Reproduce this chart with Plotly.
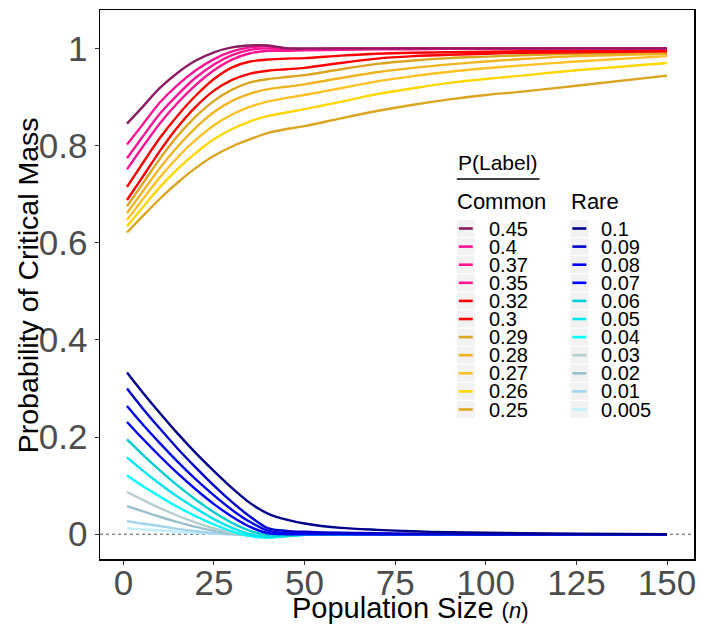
import plotly.graph_objects as go

# ---------------- data ----------------
n_values = [1, 5, 10, 15, 20, 25, 30, 35, 40, 45, 50, 60, 70, 80, 90, 100, 110, 125, 150]

common_labels = ["0.45", "0.4", "0.37", "0.35", "0.32", "0.3", "0.29", "0.28", "0.27", "0.26", "0.25"]
common_colors = ["#8B1C62", "#FF1493", "#FF1493", "#FF1493", "#FF0000", "#FF0000",
                 "#DAA520", "#EEB422", "#FFC125", "#FFD700", "#DAA520"]
p045 = [0.845, 0.877, 0.918, 0.950, 0.975, 0.992, 1.002, 1.006, 1.006, 1.000, 1.000, 1.000, 1.000, 1.000, 1.000, 1.000, 1.000, 1.000, 1.000]
p040 = [0.802, 0.840, 0.888, 0.925, 0.955, 0.978, 0.994, 1.002, 1.004, 1.000, 0.999, 1.000, 1.000, 1.000, 1.000, 1.000, 1.000, 1.000, 1.000]
p037 = [0.774, 0.815, 0.865, 0.905, 0.940, 0.967, 0.986, 0.997, 1.000, 0.998, 0.998, 0.999, 0.999, 1.000, 1.000, 1.000, 1.000, 1.000, 1.000]
p035 = [0.751, 0.794, 0.845, 0.888, 0.925, 0.955, 0.977, 0.990, 0.995, 0.995, 0.996, 0.997, 0.998, 0.998, 0.999, 0.999, 0.999, 1.000, 1.000]
p032 = [0.715, 0.760, 0.815, 0.862, 0.903, 0.937, 0.961, 0.973, 0.977, 0.979, 0.980, 0.985, 0.989, 0.991, 0.992, 0.993, 0.994, 0.995, 0.996]
p030 = [0.688, 0.732, 0.788, 0.838, 0.880, 0.913, 0.935, 0.948, 0.954, 0.957, 0.960, 0.970, 0.979, 0.984, 0.987, 0.989, 0.991, 0.992, 0.994]
p029 = [0.675, 0.718, 0.772, 0.820, 0.860, 0.892, 0.915, 0.930, 0.937, 0.941, 0.945, 0.957, 0.968, 0.975, 0.980, 0.983, 0.986, 0.989, 0.992]
p028 = [0.661, 0.702, 0.753, 0.798, 0.837, 0.869, 0.892, 0.907, 0.916, 0.921, 0.926, 0.939, 0.951, 0.960, 0.967, 0.973, 0.978, 0.984, 0.989]
p027 = [0.647, 0.686, 0.734, 0.776, 0.812, 0.842, 0.864, 0.880, 0.891, 0.898, 0.904, 0.918, 0.932, 0.943, 0.952, 0.959, 0.965, 0.973, 0.984]
p026 = [0.634, 0.670, 0.714, 0.752, 0.785, 0.813, 0.834, 0.850, 0.861, 0.868, 0.875, 0.890, 0.906, 0.918, 0.929, 0.937, 0.944, 0.955, 0.970]
p025 = [0.621, 0.652, 0.690, 0.724, 0.754, 0.779, 0.798, 0.813, 0.826, 0.834, 0.840, 0.856, 0.871, 0.884, 0.895, 0.904, 0.911, 0.923, 0.944]
common_series = [p045, p040, p037, p035, p032, p030, p029, p028, p027, p026, p025]

rare_labels = ["0.1", "0.09", "0.08", "0.07", "0.06", "0.05", "0.04", "0.03", "0.02", "0.01", "0.005"]
rare_colors = ["#00008B", "#0000CD", "#0000EE", "#0000FF", "#00CED1", "#00E5EE", "#00FFFF",
               "#B4CDCD", "#9AC0CD", "#A4D3EE", "#BFEFFF"]
r0100 = [0.333, 0.295, 0.250, 0.207, 0.167, 0.130, 0.095, 0.064, 0.042, 0.030, 0.022, 0.013, 0.009, 0.006, 0.004, 0.003, 0.002, 0.001, 0.000]
r0090 = [0.300, 0.262, 0.218, 0.176, 0.137, 0.100, 0.066, 0.036, 0.012, 0.007, 0.005, 0.003, 0.002, 0.001, 0.001, 0.000, 0.000, 0.000, 0.000]
r0080 = [0.264, 0.229, 0.188, 0.149, 0.113, 0.080, 0.050, 0.025, 0.007, 0.003, 0.002, 0.001, 0.000, 0.000, 0.000, 0.000, 0.000, 0.000, 0.000]
r0070 = [0.231, 0.199, 0.161, 0.125, 0.092, 0.062, 0.036, 0.015, 0.002, 0.000, 0.000, 0.000, 0.000, 0.000, 0.000, 0.000, 0.000, 0.000, 0.000]
r0060 = [0.195, 0.166, 0.132, 0.100, 0.071, 0.045, 0.023, 0.007, -0.002, -0.002, 0.000, 0.000, 0.000, 0.000, 0.000, 0.000, 0.000, 0.000, 0.000]
r0050 = [0.158, 0.133, 0.104, 0.077, 0.053, 0.031, 0.013, 0.000, -0.006, -0.004, -0.001, 0.000, 0.000, 0.000, 0.000, 0.000, 0.000, 0.000, 0.000]
r0040 = [0.121, 0.101, 0.078, 0.056, 0.037, 0.020, 0.006, -0.004, -0.007, -0.004, -0.001, 0.000, 0.000, 0.000, 0.000, 0.000, 0.000, 0.000, 0.000]
r0030 = [0.087, 0.072, 0.054, 0.038, 0.024, 0.012, 0.003, -0.002, -0.003, -0.002, 0.000, 0.000, 0.000, 0.000, 0.000, 0.000, 0.000, 0.000, 0.000]
r0020 = [0.058, 0.048, 0.036, 0.025, 0.015, 0.007, 0.001, -0.002, -0.002, -0.001, 0.000, 0.000, 0.000, 0.000, 0.000, 0.000, 0.000, 0.000, 0.000]
r0010 = [0.027, 0.022, 0.017, 0.011, 0.006, 0.002, 0.000, -0.001, -0.001, 0.000, 0.000, 0.000, 0.000, 0.000, 0.000, 0.000, 0.000, 0.000, 0.000]
r0005 = [0.012, 0.010, 0.008, 0.005, 0.003, 0.001, 0.000, 0.000, 0.000, 0.000, 0.000, 0.000, 0.000, 0.000, 0.000, 0.000, 0.000, 0.000, 0.000]
rare_series = [r0100, r0090, r0080, r0070, r0060, r0050, r0040, r0030, r0020, r0010, r0005]

x_ticks = [0, 25, 50, 75, 100, 125, 150]
y_ticks = [0, 0.2, 0.4, 0.6, 0.8, 1]
y_ticktext = ["0", "0.2", "0.4", "0.6", "0.8", "1"]

x_title = "Population Size <span style='font-size:22px'>(<i>n</i>)</span>"
y_title = "Probability of Critical Mass"
legend_title = "P(Label)"
group_titles = ["Common", "Rare"]

# ---------------- figure ----------------
W, H = 701, 625
ML, MR, MT, MB = 100, 5, 10, 66
PW, PH = W - ML - MR, H - MT - MB
FONT = "Liberation Sans, Arial, sans-serif"

fig = go.Figure()

# draw from last to first so the first-listed series sits on top
for lab, col, ys in reversed(list(zip(rare_labels, rare_colors, rare_series))):
    fig.add_trace(go.Scatter(x=n_values, y=ys, mode="lines", name=lab,
                             line=dict(color=col, width=2.4, shape="spline", smoothing=0.8),
                             showlegend=False, hoverinfo="skip"))
for lab, col, ys in reversed(list(zip(common_labels, common_colors, common_series))):
    fig.add_trace(go.Scatter(x=n_values, y=ys, mode="lines", name=lab,
                             line=dict(color=col, width=2.4, shape="spline", smoothing=0.8),
                             showlegend=False, hoverinfo="skip"))

# dotted zero reference line
fig.add_shape(type="line", xref="paper", yref="y", x0=0, x1=1, y0=0, y1=0,
              line=dict(color="#555555", width=1, dash="dot"), layer="below")


def px(xp):
    return (xp - ML) / PW


def py(yp):
    return (H - MB - yp) / PH


shapes = []
annotations = []

# axis titles
annotations.append(dict(x=px(412), y=py(608), xref="paper", yref="paper", text=x_title,
                        showarrow=False, xanchor="center", yanchor="middle",
                        font=dict(size=29, color="black", family=FONT)))
annotations.append(dict(x=px(28), y=py(285), xref="paper", yref="paper", text=y_title,
                        showarrow=False, xanchor="center", yanchor="middle", textangle=-90,
                        font=dict(size=28.5, color="black", family=FONT)))

# legend title and underline
annotations.append(dict(x=px(457), y=py(162), xref="paper", yref="paper", text=legend_title,
                        showarrow=False, xanchor="left", yanchor="middle",
                        font=dict(size=21, color="black", family=FONT)))
shapes.append(dict(type="line", xref="paper", yref="paper", x0=px(458), x1=px(541),
                   y0=py(179), y1=py(179), line=dict(color="black", width=1.5)))
annotations.append(dict(x=px(456), y=py(201), xref="paper", yref="paper", text=group_titles[0],
                        showarrow=False, xanchor="left", yanchor="middle",
                        font=dict(size=22, color="black", family=FONT)))
annotations.append(dict(x=px(571), y=py(201), xref="paper", yref="paper", text=group_titles[1],
                        showarrow=False, xanchor="left", yanchor="middle",
                        font=dict(size=22, color="black", family=FONT)))

row0, step = 228.5, 18.1
for col_x, lab_x, labels, colors in [(458, 488, common_labels, common_colors),
                                     (572, 601, rare_labels, rare_colors)]:
    for i, (lab, c) in enumerate(zip(labels, colors)):
        yc = row0 + step * i
        shapes.append(dict(type="rect", xref="paper", yref="paper",
                           x0=px(col_x), x1=px(col_x + 18), y0=py(yc - 8.5), y1=py(yc + 8.5),
                           fillcolor="#F2F2F2", line=dict(width=0)))
        shapes.append(dict(type="line", xref="paper", yref="paper",
                           x0=px(col_x + 2), x1=px(col_x + 16), y0=py(yc), y1=py(yc),
                           line=dict(color=c, width=2.6)))
        annotations.append(dict(x=px(lab_x), y=py(yc), xref="paper", yref="paper", text=lab,
                                showarrow=False, xanchor="left", yanchor="middle",
                                font=dict(size=20, color="black", family=FONT)))

for s in shapes:
    fig.add_shape(**s)

fig.update_layout(
    width=W, height=H,
    margin=dict(l=ML, r=MR, t=MT, b=MB),
    paper_bgcolor="white", plot_bgcolor="white",
    font=dict(family=FONT),
    annotations=annotations,
    showlegend=False,
    hovermode=False,
    xaxis=dict(range=[-6.45, 157.45], tickvals=x_ticks, showgrid=False, zeroline=False,
               showline=True, mirror=True, linecolor="black", linewidth=1.5,
               ticks="outside", ticklen=4, tickcolor="#333333", tickwidth=1,
               ticklabelstandoff=-12,
               tickfont=dict(size=35, color="#4D4D4D", family=FONT)),
    yaxis=dict(range=[-0.051, 1.079], tickvals=y_ticks, ticktext=y_ticktext,
               showgrid=False, zeroline=False,
               showline=True, mirror=True, linecolor="black", linewidth=1.5,
               ticks="outside", ticklen=4, tickcolor="#333333", tickwidth=1,
               tickfont=dict(size=35, color="#4D4D4D", family=FONT)),
)

# the page body has a default 8px margin; remove it so the figure fills the window
fig.write_html("out.html", config={"displayModeBar": False, "staticPlot": True},
               post_script="document.body.style.margin='0';document.body.style.overflow='hidden';")
